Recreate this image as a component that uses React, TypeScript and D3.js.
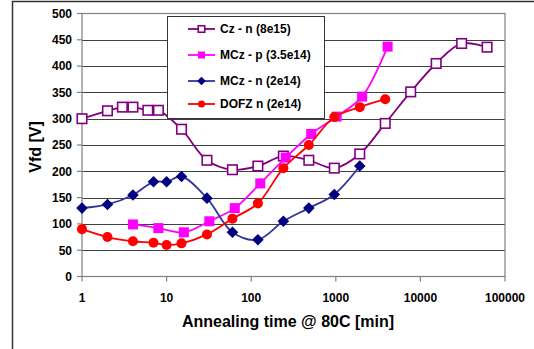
import React from "react";
import * as d3 from "d3";

const czT = [1, 2, 3, 4, 6, 8, 15, 30, 60, 120, 240, 480, 960, 1920, 3840, 7680, 15360, 30720, 61440];
const czV = [300, 315, 322, 322, 316, 316, 280, 221, 203, 210, 229, 221, 206, 233, 291, 351, 405, 443, 436];

const mczpT = [4, 8, 16, 32, 64, 128, 256, 512, 1024, 2048, 4096];
const mczpV = [99, 92, 84, 105, 130, 177, 226, 271, 304, 342, 437];

const mcznT = [1, 2, 4, 7, 10, 15, 30, 60, 120, 240, 480, 960, 1920];
const mcznV = [130, 137, 155, 180, 180, 190, 149, 84, 70, 105, 130, 156, 210];

const dofzT = [1, 2, 4, 7, 10, 15, 30, 60, 120, 240, 480, 960, 1920, 3840];
const dofzV = [90, 75, 67, 64, 60, 63, 80, 110, 139, 206, 250, 303, 322, 337];

const yTicks = [0, 50, 100, 150, 200, 250, 300, 350, 400, 450, 500];
const xTicks = [1, 10, 100, 1000, 10000, 100000];

const seriesNames = ["Cz - n (8e15)", "MCz - p (3.5e14)", "MCz - n (2e14)", "DOFZ n (2e14)"];

const FONT = "'Liberation Sans', Arial, sans-serif";

type Kind = "openSquare" | "square" | "diamond" | "circle";

function Marker({ kind, cx, cy, s, color }: { kind: Kind; cx: number; cy: number; s: number; color: string }) {
  if (kind === "openSquare")
    return <rect x={cx - s / 2} y={cy - s / 2} width={s} height={s} fill="white" stroke={color} strokeWidth={1.6} />;
  if (kind === "square") return <rect x={cx - s / 2} y={cy - s / 2} width={s} height={s} fill={color} />;
  if (kind === "diamond") {
    const h = s / 2 + 0.8;
    return <path d={`M${cx},${cy - h}L${cx + h},${cy}L${cx},${cy + h}L${cx - h},${cy}Z`} fill={color} />;
  }
  return <circle cx={cx} cy={cy} r={s / 2} fill={color} />;
}

export default function App() {
  const W = 534, H = 349;
  const x = d3.scaleLog().domain([1, 100000]).range([82, 505]);
  const y = d3.scaleLinear().domain([0, 500]).range([276.5, 13.5]);

  const series = [
    { t: czT, v: czV, line: "#800080", mark: "#800080", kind: "openSquare" as Kind, s: 9.5 },
    { t: mczpT, v: mczpV, line: "#FF00FF", mark: "#FF00FF", kind: "square" as Kind, s: 10 },
    { t: mcznT, v: mcznV, line: "#3333A0", mark: "#000080", kind: "diamond" as Kind, s: 10 },
    { t: dofzT, v: dofzV, line: "#FF0000", mark: "#FF0000", kind: "circle" as Kind, s: 10 },
  ];

  const lineGen = d3
    .line<[number, number]>()
    .x((d) => x(d[0]))
    .y((d) => y(d[1]))
    .curve(d3.curveCatmullRom.alpha(0.5));

  const legendY = [29, 55, 81, 104];

  return (
    <svg width={W} height={H} style={{ position: "absolute", left: 0, top: 0 }} fontFamily={FONT}>
      <rect x={0} y={0} width={W} height={H} fill="white" />
      <rect x={12.5} y={1.5} width={W + 10} height={H + 10} fill="none" stroke="#333" strokeWidth={1.5} />
      {/* gridlines */}
      {yTicks.slice(1, -1).map((v) => (
        <line key={v} x1={82} x2={505} y1={Math.round(y(v)) + 0.5} y2={Math.round(y(v)) + 0.5} stroke="#404040" strokeWidth={1} />
      ))}
      <rect x={82} y={13.5} width={423} height={263} fill="none" stroke="#808080" strokeWidth={1.2} />
      {/* y ticks */}
      {yTicks.map((v) => (
        <g key={v}>
          <line x1={77} x2={82} y1={y(v)} y2={y(v)} stroke="#808080" strokeWidth={1.2} />
          <text x={72} y={y(v) + 4.3} textAnchor="end" fontSize={12} fontWeight="bold" fill="#000">
            {v}
          </text>
        </g>
      ))}
      {xTicks.map((t) => (
        <g key={t}>
          <line x1={x(t)} x2={x(t)} y1={276.5} y2={281.5} stroke="#808080" strokeWidth={1.2} />
          <text x={x(t)} y={302} textAnchor="middle" fontSize={12} fontWeight="bold" fill="#000">
            {t}
          </text>
        </g>
      ))}
      <text x={288} y={327} textAnchor="middle" fontSize={16} fontWeight="bold" fill="#000">
        Annealing time @ 80C [min]
      </text>
      <text transform="translate(41,147) rotate(-90)" textAnchor="middle" fontSize={16} fontWeight="bold" fill="#000">
        Vfd [V]
      </text>
      {/* series */}
      {series.map((s, i) => {
        const pts = s.t.map((t, j) => [t, s.v[j]] as [number, number]);
        return (
          <g key={i}>
            <path d={lineGen(pts) || ""} fill="none" stroke={s.line} strokeWidth={1.8} />
            {pts.map((p, j) => (
              <Marker key={j} kind={s.kind} cx={x(p[0])} cy={y(p[1])} s={s.s} color={s.mark} />
            ))}
          </g>
        );
      })}
      {/* legend */}
      <rect x={167.5} y={16.5} width={157} height={102} fill="white" stroke="#333" strokeWidth={1} />
      {series.map((s, i) => (
        <g key={i}>
          <line x1={188} x2={215} y1={legendY[i]} y2={legendY[i]} stroke={s.line} strokeWidth={1.8} />
          <Marker kind={s.kind} cx={201.5} cy={legendY[i]} s={s.kind === "openSquare" ? 6.5 : 7} color={s.mark} />
          <text x={220} y={legendY[i] + 4} fontSize={12} fontWeight="bold" fill="#000">
            {seriesNames[i]}
          </text>
        </g>
      ))}
    </svg>
  );
}
